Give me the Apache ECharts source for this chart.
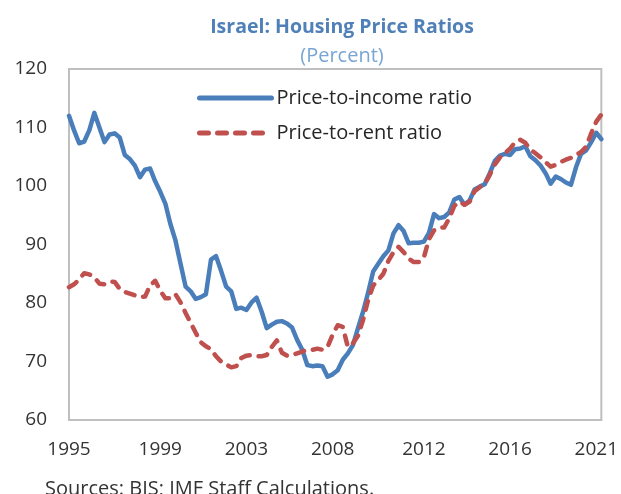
<!DOCTYPE html>
<html>
<head>
<meta charset="utf-8">
<script src="https://cdn.jsdelivr.net/npm/echarts@6/dist/echarts.min.js"></script>
<style>
html,body{margin:0;padding:0;background:#fff;}
#chart{width:621px;height:494px;}
</style>
</head>
<body>
<div id="chart"></div>
<script>
// Quarterly categories, 1995Q1 .. 2021Q2
const quarters = [];
for (let y = 1995; y <= 2021; y++) {
  for (let q = 1; q <= 4; q++) {
    if (y === 2021 && q > 2) break;
    quarters.push(y + 'Q' + q);
  }
}

// Tick labels shown on the x axis and the quarters they sit on
const tickLabels = ['1995', '1999', '2003', '2008', '2012', '2016', '2021'];
const tickQuarters = ['1995Q1', '1999Q3', '2003Q4', '2008Q1', '2012Q3', '2016Q4', '2021Q1'];

// Price-to-income ratio (percent)
const priceToIncome = [
  112, 109.5, 107.3, 107.6, 109.5, 112.5, 110, 107.5, 108.8, 109,
  108.3, 105.3, 104.6, 103.5, 101.5, 102.8, 103, 100.8, 99, 97,
  93.5, 90.7, 86.7, 82.8, 82, 80.7, 81, 81.5, 87.4, 88,
  85.5, 82.8, 82, 79, 79.2, 78.8, 80.1, 80.9, 78.5, 75.7,
  76.3, 76.8, 76.9, 76.5, 75.8, 73.7, 72, 69.4, 69.2, 69.3,
  69.2, 67.4, 67.8, 68.5, 70.3, 71.4, 72.8, 75.7, 78.5, 81.8,
  85.4, 86.7, 88, 89, 91.9, 93.3, 92.3, 90.2, 90.3, 90.3,
  90.5, 92, 95.2, 94.5, 94.7, 95.5, 97.7, 98.1, 96.8, 97.5,
  99.4, 99.9, 100.3, 102.2, 104.3, 105.2, 105.5, 105.3, 106.3, 106.4,
  106.8, 105.1, 104.4, 103.5, 102.2, 100.4, 101.6, 101.2, 100.6, 100.2,
  103.2, 105.5, 106.1, 107.5, 109.1, 108
];

// Price-to-rent ratio (percent)
const priceToRent = [
  82.7, 83.2, 84, 85.1, 84.9, 84.4, 83.3, 83.2, 83.7, 83.6,
  82.4, 81.9, 81.6, 81.3, 81, 81.1, 83, 83.8, 82.1, 80.8,
  80.8, 81.5, 80.1, 78.3, 76.6, 74.9, 73.3, 72.6, 72.1, 70.9,
  70, 69.5, 69, 69.2, 70.6, 71, 71.1, 70.9, 70.9, 71.1,
  72.5, 73.6, 71.5, 71, 71.1, 71.4, 71.7, 72, 72, 72.2,
  72, 72.5, 74.6, 76.2, 75.9, 72.5, 73.1, 74.4, 77.1, 80.5,
  83, 83.9, 85, 87.2, 88.7, 89.6, 88.7, 87.6, 87, 87,
  87.8, 90.9, 92.4, 92.9, 92.9, 94.5, 96.6, 97.3, 96.8, 97.3,
  99.1, 99.8, 100.4, 101.9, 103.7, 104.9, 105.6, 106.4, 107.5, 107.9,
  107.4, 106.2, 105.6, 104.9, 104.1, 103.3, 103.6, 104.1, 104.5, 104.8,
  105.3, 105.8, 106.7, 109, 111, 112.2
];

const FONT = '"Open Sans", "Noto Sans", sans-serif';
const chart = echarts.init(document.getElementById('chart'), null, {renderer: 'canvas'});
chart.setOption({
  backgroundColor: '#ffffff',
  animation: false,
  title: [
    {
      text: 'Israel: Housing Price Ratios',
      left: 337, top: 12, textAlign: 'center',
      textStyle: {fontFamily: FONT, fontSize: 19.5, fontWeight: 'bold', color: '#4f81b8'}
    },
    {
      text: '(Percent)',
      left: 337, top: 41, textAlign: 'center',
      textStyle: {fontFamily: FONT, fontSize: 20, fontWeight: 'normal', color: '#79a5d3'}
    },
    {
      text: 'Sources: BIS; IMF Staff Calculations.',
      left: 40, top: 474,
      textStyle: {fontFamily: FONT, fontSize: 20, fontWeight: 'normal', color: '#333333'}
    }
  ],
  legend: {
    orient: 'vertical',
    left: 192, top: 83,
    itemWidth: 72, itemHeight: 14, itemGap: 15,
    itemStyle: {opacity: 0, borderWidth: 0},
    lineStyle: {width: 5},
    textStyle: {fontFamily: FONT, fontSize: 20, color: '#262626'},
    data: ['Price-to-income ratio', 'Price-to-rent ratio']
  },
  grid: {
    left: 69, right: 16, top: 69, bottom: 74,
    show: true, borderColor: '#bfbfbf', borderWidth: 2, backgroundColor: 'transparent'
  },
  xAxis: {
    type: 'category',
    data: quarters,
    boundaryGap: false,
    axisLine: {show: false},
    axisTick: {show: false},
    splitLine: {show: false},
    axisLabel: {
      margin: 20,
      fontFamily: FONT, fontSize: 19, color: '#333333',
      interval: function (idx, val) { return tickQuarters.indexOf(val) >= 0; },
      formatter: function (val) { const k = tickQuarters.indexOf(val); return k >= 0 ? tickLabels[k] : ''; }
    }
  },
  yAxis: {
    type: 'value',
    min: 60, max: 120, interval: 10,
    axisLine: {show: false},
    axisTick: {show: false},
    splitLine: {show: false},
    axisLabel: {margin: 22, fontFamily: FONT, fontSize: 19, color: '#333333'}
  },
  series: [
    {
      name: 'Price-to-income ratio',
      type: 'line',
      data: priceToIncome,
      symbol: 'none',
      smooth: false,
      lineStyle: {color: '#4a7ebb', width: 4.5, cap: 'round', join: 'round'},
      itemStyle: {color: '#4a7ebb'},
      z: 3
    },
    {
      name: 'Price-to-rent ratio',
      type: 'line',
      data: priceToRent,
      symbol: 'none',
      smooth: false,
      lineStyle: {color: '#c0504d', width: 4.5, type: [9, 9], cap: 'round', join: 'round'},
      itemStyle: {color: '#c0504d'},
      z: 4
    }
  ]
});
</script>
</body>
</html>
